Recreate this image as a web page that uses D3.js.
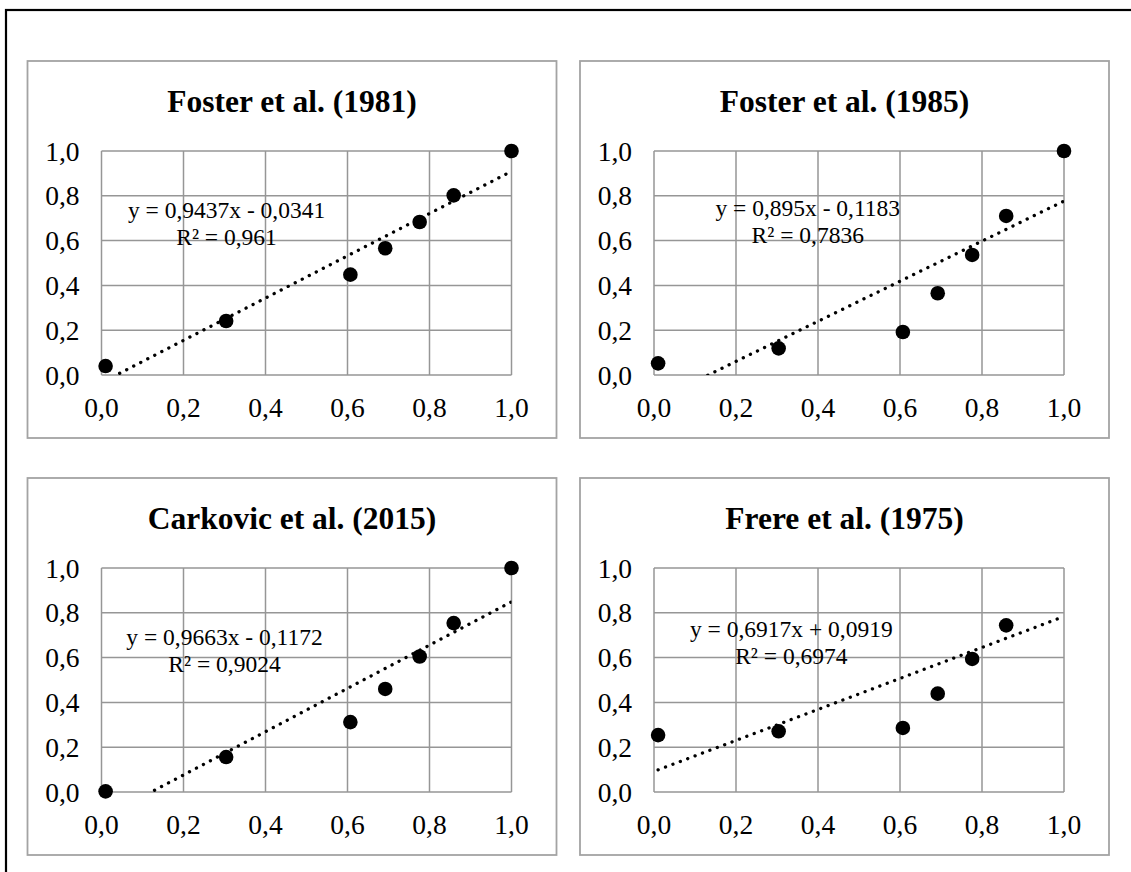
<!DOCTYPE html>
<html>
<head>
<meta charset="utf-8">
<script src="https://cdn.jsdelivr.net/npm/d3@7"></script>
<style>
  body { margin: 0; background: #fff; }
  text { font-family: "Liberation Serif", "Times New Roman", serif; fill: #000; }
</style>
</head>
<body>
<svg id="chart" width="1131" height="872"></svg>
<script>
// shared x values of the measurements
const xValues = [0.01, 0.304, 0.607, 0.692, 0.776, 0.859, 1.0];

// y values per study (Frere has no visible marker at x = 1.0)
const fosterA = [0.04, 0.241, 0.448, 0.566, 0.683, 0.802, 1.0];
const fosterB = [0.052, 0.119, 0.192, 0.365, 0.536, 0.71, 1.0];
const carkovic = [0.003, 0.156, 0.312, 0.46, 0.605, 0.754, 1.0];
const frere = [0.254, 0.271, 0.286, 0.439, 0.594, 0.744];

const titles = ['Foster et al. (1981)', 'Foster et al. (1985)', 'Carkovic et al. (2015)', 'Frere et al. (1975)'];
const slopes = [0.9437, 0.895, 0.9663, 0.6917];
const intercepts = [-0.0341, -0.1183, -0.1172, 0.0919];
const eqLabels = ['y = 0,9437x - 0,0341', 'y = 0,895x - 0,1183', 'y = 0,9663x - 0,1172', 'y = 0,6917x + 0,0919'];
const r2Labels = ['R² = 0,961', 'R² = 0,7836', 'R² = 0,9024', 'R² = 0,6974'];
// where the trendline label sits, in data units (centre x, first baseline y)
const eqPos = [[0.305, 0.70], [0.375, 0.71], [0.30, 0.655], [0.335, 0.69]];
const tickValues = [0, 0.2, 0.4, 0.6, 0.8, 1.0];

const seriesY = [fosterA, fosterB, carkovic, frere];

const svg = d3.select('#chart');
const fmt = d => d3.format('.1f')(d).replace('.', ',');

// outer frame (only left and top edges fall inside the picture)
svg.append('rect')
    .attr('x', 6).attr('y', 10)
    .attr('width', 1300).attr('height', 1000)
    .attr('fill', 'none').attr('stroke', '#000').attr('stroke-width', 2.2);

const panels = [
    {x: 27.5, y: 61},
    {x: 580, y: 61},
    {x: 27.5, y: 478},
    {x: 580, y: 478}
];
const panelW = 529, panelH = 377;
const plotL = 74, plotT = 90, plotW = 410, plotH = 224;

panels.forEach((p, i) => {
    const g = svg.append('g').attr('transform', `translate(${p.x},${p.y})`);

    g.append('rect')
        .attr('width', panelW).attr('height', panelH)
        .attr('fill', '#fff').attr('stroke', '#a3a3a3').attr('stroke-width', 1.8);

    g.append('text')
        .attr('x', panelW / 2).attr('y', 51)
        .attr('text-anchor', 'middle')
        .style('font-size', '31.5px').style('font-weight', 'bold')
        .text(titles[i]);

    const x = d3.scaleLinear().domain([0, 1]).range([plotL, plotL + plotW]);
    const y = d3.scaleLinear().domain([0, 1]).range([plotT + plotH, plotT]);

    // gridlines
    g.append('g').selectAll('line.v')
        .data(tickValues).enter().append('line')
        .attr('x1', d => x(d)).attr('x2', d => x(d))
        .attr('y1', y(0)).attr('y2', y(1))
        .attr('stroke', '#969696').attr('stroke-width', 1.5);
    g.append('g').selectAll('line.h')
        .data(tickValues).enter().append('line')
        .attr('x1', x(0)).attr('x2', x(1))
        .attr('y1', d => y(d)).attr('y2', d => y(d))
        .attr('stroke', '#969696').attr('stroke-width', 1.5);

    // tick labels
    g.append('g').selectAll('text')
        .data(tickValues).enter().append('text')
        .attr('x', x(0) - 22).attr('y', d => y(d) + 9.5)
        .attr('text-anchor', 'end')
        .style('font-size', '27.5px')
        .text(fmt);
    g.append('g').selectAll('text')
        .data(tickValues).enter().append('text')
        .attr('x', d => x(d)).attr('y', y(0) + 42)
        .attr('text-anchor', 'middle')
        .style('font-size', '27.5px')
        .text(fmt);

    // trendline, clipped to the plot area
    const clipId = 'clip' + i;
    g.append('clipPath').attr('id', clipId)
        .append('rect')
        .attr('x', x(0)).attr('y', y(1))
        .attr('width', plotW).attr('height', plotH);
    const ext = [xValues[0], 1.0];
    g.append('line')
        .attr('clip-path', `url(#${clipId})`)
        .attr('x1', x(ext[0])).attr('y1', y(slopes[i] * ext[0] + intercepts[i]))
        .attr('x2', x(ext[1])).attr('y2', y(slopes[i] * ext[1] + intercepts[i]))
        .attr('stroke', '#000').attr('stroke-width', 3.3)
        .attr('stroke-linecap', 'round')
        .attr('stroke-dasharray', '0.1 7.8');

    // trendline label
    const lbl = g.append('text')
        .attr('text-anchor', 'middle')
        .style('font-size', '23.5px');
    lbl.append('tspan')
        .attr('x', x(eqPos[i][0])).attr('y', y(eqPos[i][1]))
        .text(eqLabels[i]);
    lbl.append('tspan')
        .attr('x', x(eqPos[i][0])).attr('dy', 27)
        .text(r2Labels[i]);

    // markers
    const pts = seriesY[i].map((v, j) => [xValues[j], v]);
    g.append('g').selectAll('circle')
        .data(pts).enter().append('circle')
        .attr('cx', d => x(d[0])).attr('cy', d => y(d[1]))
        .attr('r', 7.3)
        .attr('fill', '#000');
});
</script>
</body>
</html>
